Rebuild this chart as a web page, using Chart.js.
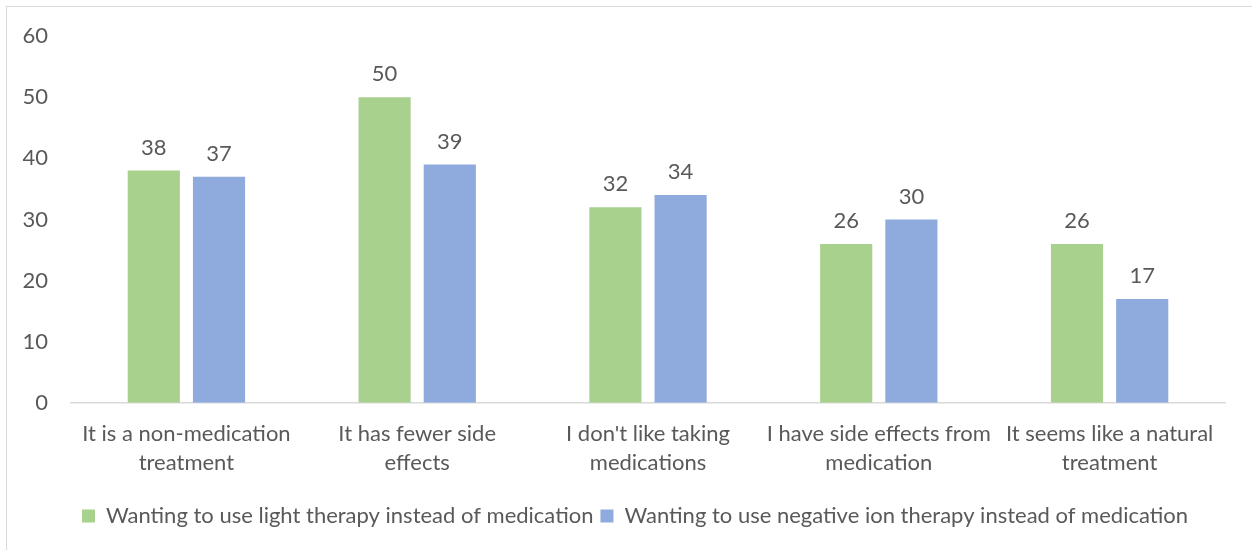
<!DOCTYPE html>
<html>
<head>
<meta charset="utf-8">
<script src="https://cdn.jsdelivr.net/npm/chart.js@4"></script>
<style>
  html, body { margin: 0; padding: 0; background: #fff; overflow: hidden; }
  #frame {
    position: absolute; left: 6px; top: 6px;
    width: 1260px; height: 560px;
    border: 1.5px solid #d9d9d9; box-sizing: border-box;
  }
  #wrap { position: absolute; left: 0; top: 0; width: 1252px; height: 550px; }
</style>
</head>
<body>
<div id="frame"></div>
<div id="wrap"><canvas id="chart"></canvas></div>
<script>
// categories and values
const categories = [
    ['It is a non-medication', 'treatment'],
    ['It has fewer side', 'effects'],
    ["I don't like taking", 'medications'],
    ['I have side effects from', 'medication'],
    ['It seems like a natural', 'treatment']
];
const lightTherapy = [38, 50, 32, 26, 26];
const ionTherapy = [37, 39, 34, 30, 17];
const yTicks = [0, 10, 20, 30, 40, 50, 60];

const textColor = '#595959';
const fontFamily = 'Lato, "Open Sans", sans-serif';

// draws the value above each bar
const valueLabels = {
    id: 'valueLabels',
    afterDatasetsDraw(chart) {
        const c = chart.ctx;
        c.save();
        c.fillStyle = textColor;
        c.font = '22px ' + fontFamily;
        c.textAlign = 'center';
        c.textBaseline = 'bottom';
        chart.data.datasets.forEach((ds, i) => {
            chart.getDatasetMeta(i).data.forEach((bar, j) => {
                c.fillText(ds.data[j], bar.x, bar.y - 12);
            });
        });
        c.restore();
    }
};

const data = {
    labels: categories,
    datasets: [
        {
            label: 'Wanting to use light therapy instead of medication',
            data: lightTherapy,
            backgroundColor: '#a9d18e',
            categoryPercentage: 0.565,
            barPercentage: 0.8
        },
        {
            label: 'Wanting to use negative ion therapy instead of medication',
            data: ionTherapy,
            backgroundColor: '#8faadc',
            categoryPercentage: 0.565,
            barPercentage: 0.8
        }
    ]
};

const options = {
    responsive: true,
    maintainAspectRatio: false,
    animation: false,
    layout: { padding: { left: 18, right: 0, top: 24, bottom: 13 } },
    plugins: {
        legend: {
            position: 'bottom',
            labels: {
                color: textColor,
                font: { family: fontFamily, size: 22 },
                boxWidth: 13,
                boxHeight: 13,
                padding: 7
            }
        },
        tooltip: { enabled: false }
    },
    scales: {
        x: {
            grid: { display: false, drawTicks: false },
            border: { color: '#d9d9d9', width: 1.5 },
            ticks: {
                color: textColor,
                font: { family: fontFamily, size: 22, lineHeight: 1.3 },
                maxRotation: 0,
                padding: 17
            },
            afterFit(axis) {
                axis.height += 4;
            }
        },
        y: {
            min: 0,
            max: 60,
            afterBuildTicks(axis) {
                axis.ticks = yTicks.map(v => ({ value: v }));
            },
            afterFit(axis) {
                axis.width = 53;
            },
            grid: { display: false, drawTicks: false },
            border: { display: false },
            ticks: {
                color: textColor,
                font: { family: fontFamily, size: 22 },
                padding: 23
            }
        },
        // empty right-hand axis, only keeps space at the right of the bars
        y2: {
            position: 'right',
            min: 0,
            max: 1,
            grid: { display: false, drawTicks: false },
            border: { display: false },
            ticks: { display: false },
            afterFit(axis) {
                axis.width = 27;
            }
        }
    }
};

const ctx = document.getElementById('chart').getContext('2d');
const myChart = new Chart(ctx, {
    type: 'bar',
    data: data,
    options: options,
    plugins: [valueLabels]
});
</script>
</body>
</html>
